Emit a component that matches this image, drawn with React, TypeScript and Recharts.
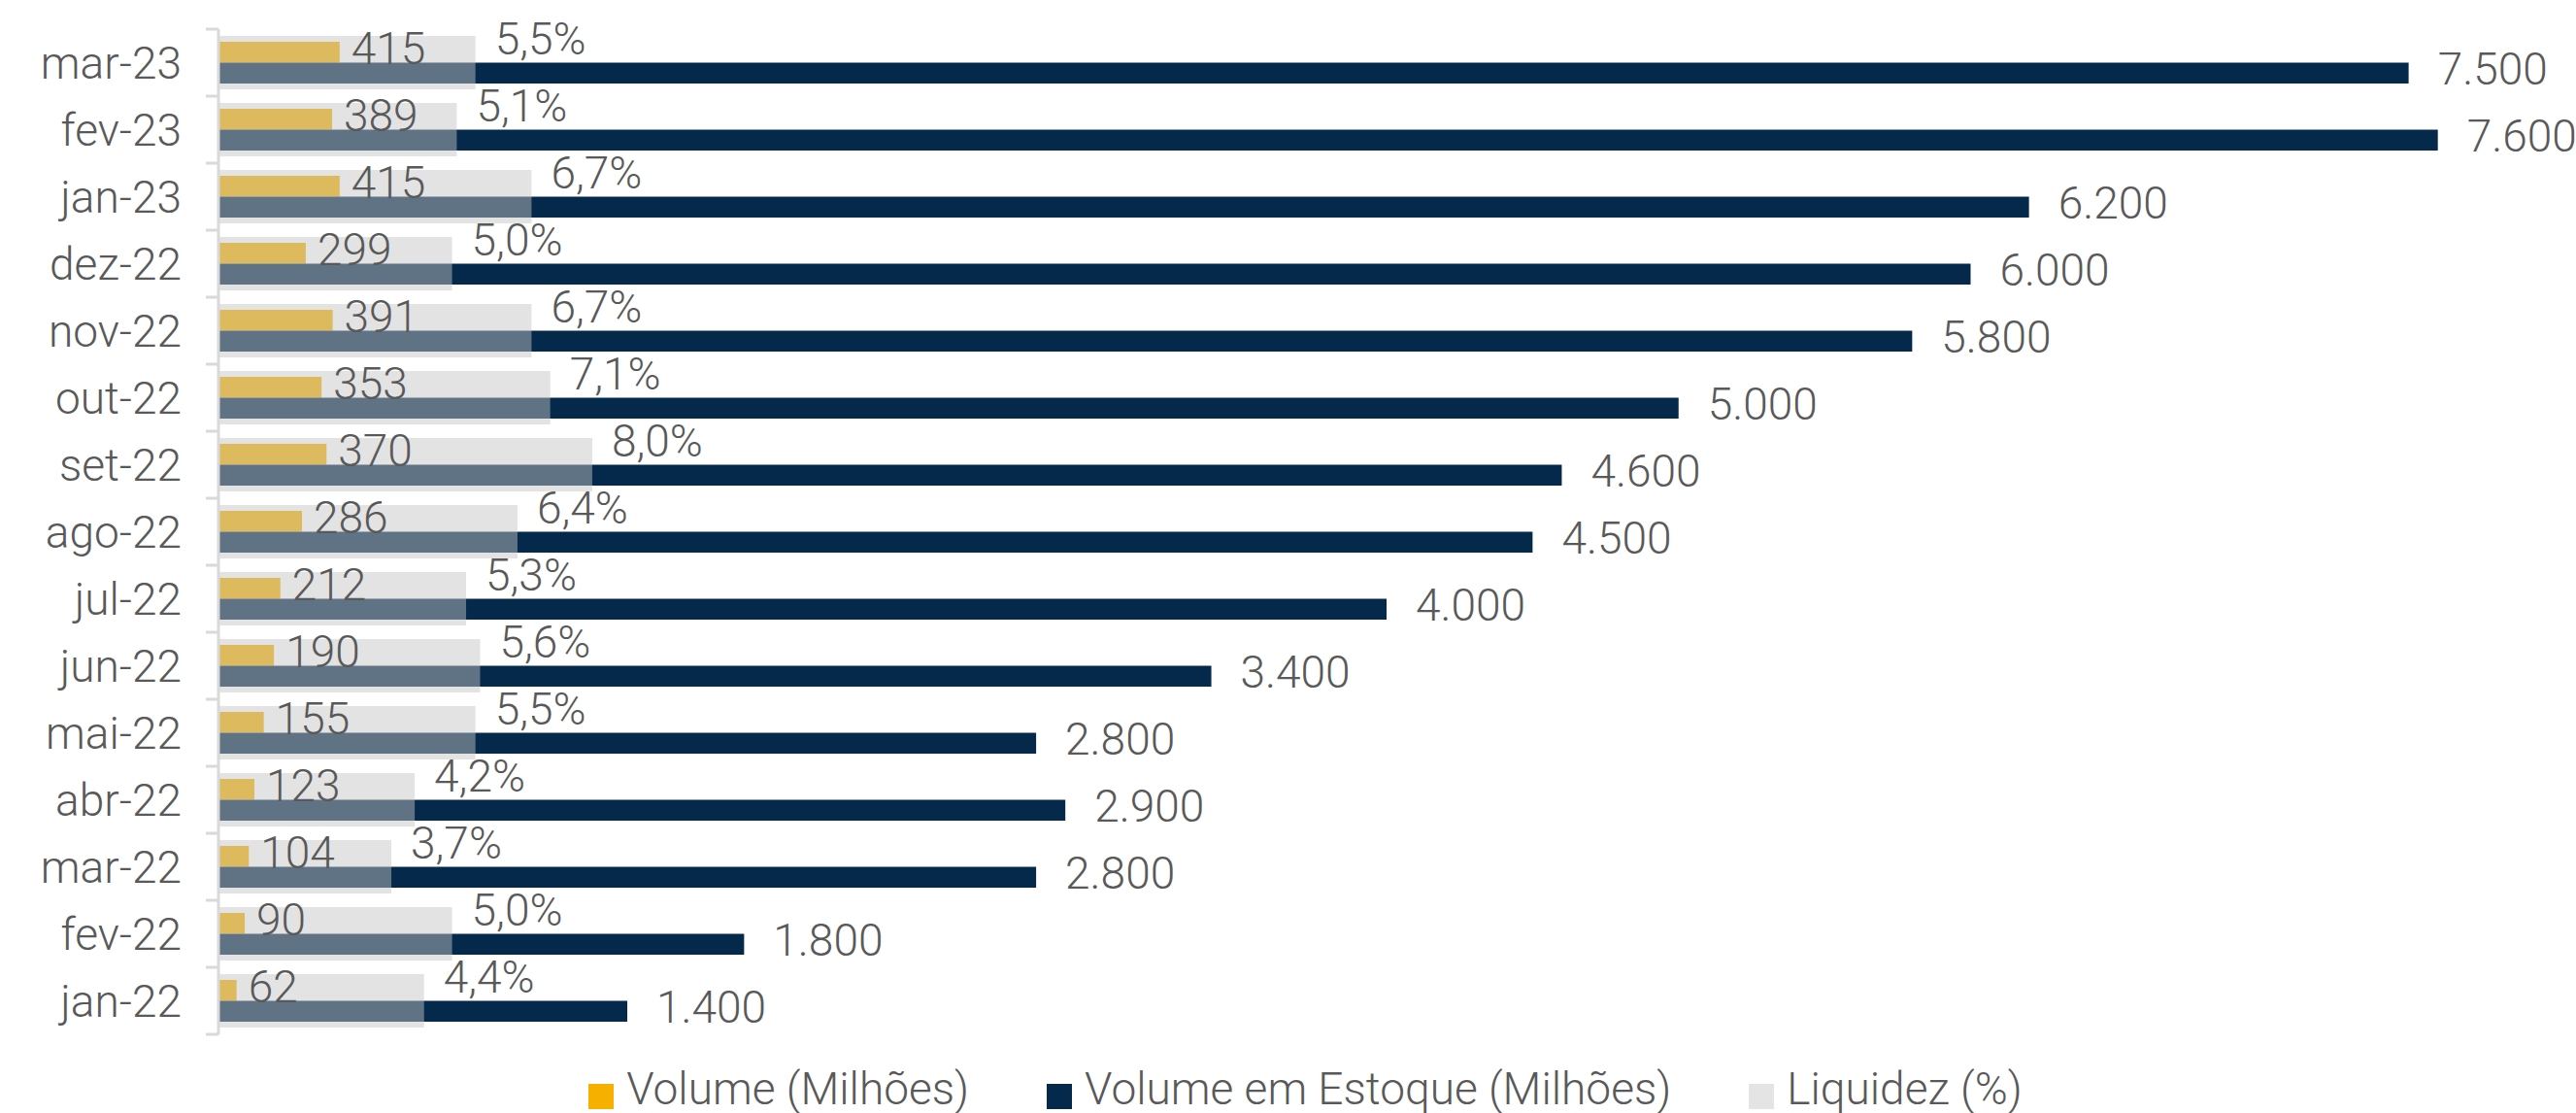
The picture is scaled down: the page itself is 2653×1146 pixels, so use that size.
import React from 'react';
import { BarChart, Bar, XAxis, YAxis, Legend, LabelList } from 'recharts';

const months = ['mar-23', 'fev-23', 'jan-23', 'dez-22', 'nov-22', 'out-22', 'set-22', 'ago-22', 'jul-22', 'jun-22', 'mai-22', 'abr-22', 'mar-22', 'fev-22', 'jan-22'];
const volume = [415, 389, 415, 299, 391, 353, 370, 286, 212, 190, 155, 123, 104, 90, 62];
const estoque = [7500, 7600, 6200, 6000, 5800, 5000, 4600, 4500, 4000, 3400, 2800, 2900, 2800, 1800, 1400];
const liquidez = [5.5, 5.1, 6.7, 5.0, 6.7, 7.1, 8.0, 6.4, 5.3, 5.6, 5.5, 4.2, 3.7, 5.0, 4.4];

const volumeDomain = [0, 8000];
const liquidezDomain = [0, 50];

const seriesNames = ['Volume (Milhões)', 'Volume em Estoque (Milhões)', 'Liquidez (%)'];
const legendColors = ['#F5B000', '#05294A', '#E4E4E4'];

const data = months.map((m, i) => ({ month: m, volume: volume[i], estoque: estoque[i], liquidez: liquidez[i] }));

const FONT = 'Roboto, "Liberation Sans", sans-serif';
const FS = 46;
const TEXT = '#595959';
const AXIS = '#D9D9D9';

const fmtInt = (v: number) => String(v).replace(/\B(?=(\d{3})+(?!\d))/g, '.');
const fmtPct = (v: number) => v.toFixed(1).replace('.', ',') + '%';

const makeLabel = (dx: number, dy: number, fmt: (v: number) => string) => (props: any) => {
  const { x, y, width, height, value } = props;
  return (
    <text
      x={Number(x) + Number(width) + dx}
      y={Number(y) + Number(height) / 2 + dy}
      fill={TEXT}
      fontFamily={FONT}
      fontWeight={300}
      fontSize={FS}
      dominantBaseline="central"
      textAnchor="start"
    >
      {fmt(Number(value))}
    </text>
  );
};

const CatTick = (props: any) => {
  const { x, y, payload, index, visibleTicksCount } = props;
  const off = payload && payload.offset ? payload.offset : 0;
  return (
    <g>
      <text x={x - 38} y={y} textAnchor="end" dominantBaseline="central" fill={TEXT} fontFamily={FONT} fontWeight={300} fontSize={FS}>
        {payload.value}
      </text>
      <line x1={x - 13} x2={x} y1={y - off} y2={y - off} stroke={AXIS} strokeWidth={3} />
      {index === visibleTicksCount - 1 ? (
        <line x1={x - 13} x2={x} y1={y + off} y2={y + off} stroke={AXIS} strokeWidth={3} />
      ) : null}
    </g>
  );
};

const LegendContent = () => (
  <div
    style={{
      height: 81,
      display: 'flex',
      justifyContent: 'center',
      alignItems: 'flex-end',
      paddingLeft: 58,
      boxSizing: 'border-box',
      fontFamily: FONT,
      fontWeight: 300,
      fontSize: FS,
      color: TEXT,
      lineHeight: 1,
    }}
  >
    {seriesNames.map((n, i) => (
      <div key={n} style={{ display: 'flex', alignItems: 'flex-end', marginLeft: i === 0 ? 0 : 80, paddingBottom: 2 }}>
        <span style={{ display: 'inline-block', width: 26, height: 26, background: legendColors[i], marginRight: 13, marginBottom: 2 }} />
        <span>{n}</span>
      </div>
    ))}
  </div>
);

export default function App() {
  return (
    <div style={{ position: 'absolute', left: 0, top: 0, background: '#fff' }}>
      <BarChart
        width={2653}
        height={1146}
        data={data}
        layout="vertical"
        margin={{ top: 30, right: 22, bottom: 0, left: 0 }}
        barGap={0}
        barCategoryGap={0}
      >
        <XAxis xAxisId="vol" type="number" domain={volumeDomain} hide allowDataOverflow />
        <XAxis xAxisId="liq" type="number" domain={liquidezDomain} hide allowDataOverflow />
        <YAxis
          yAxisId="cat"
          type="category"
          dataKey="month"
          width={225}
          tickSize={0}
          tickMargin={0}
          tickLine={false}
          axisLine={{ stroke: AXIS, strokeWidth: 3 }}
          tick={<CatTick />}
          interval={0}
        />
        <YAxis yAxisId="g" type="category" dataKey="month" hide />
        <Legend verticalAlign="bottom" content={<LegendContent />} />
        <Bar xAxisId="vol" yAxisId="cat" dataKey="volume" name={seriesNames[0]} fill="#F5B000" barSize={21.5} isAnimationActive={false}>
          <LabelList dataKey="volume" content={makeLabel(12, -4, fmtInt)} />
        </Bar>
        <Bar xAxisId="vol" yAxisId="cat" dataKey="estoque" name={seriesNames[1]} fill="#05294A" barSize={21.5} isAnimationActive={false}>
          <LabelList dataKey="estoque" content={makeLabel(30, -4, fmtInt)} />
        </Bar>
        <Bar xAxisId="liq" yAxisId="g" dataKey="liquidez" name={seriesNames[2]} fill="#C5C5C5" fillOpacity={0.48} barSize={55} isAnimationActive={false}>
          <LabelList dataKey="liquidez" content={makeLabel(20, -25, fmtPct)} />
        </Bar>
      </BarChart>
    </div>
  );
}
